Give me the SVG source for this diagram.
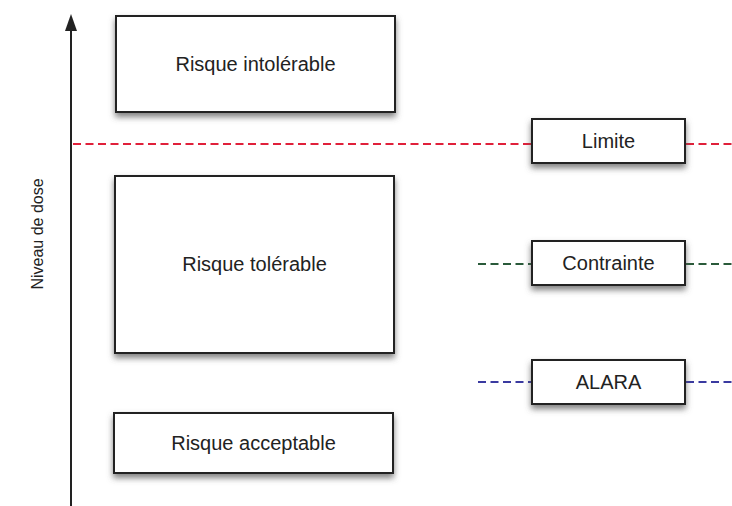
<svg xmlns="http://www.w3.org/2000/svg" width="732" height="506" viewBox="0 0 732 506">
<style>
.box{fill:#fff;stroke:#222;stroke-width:2;filter:url(#sh)}
.lbl{font-family:"Liberation Sans",Arial,sans-serif;font-size:20px;fill:#222;text-anchor:middle}
.dash{fill:none;stroke-width:2;stroke-dasharray:8 4.5}
</style>
<defs>
<filter id="sh" x="-10%" y="-20%" width="120%" height="150%">
<feDropShadow dx="0" dy="4" stdDeviation="3" flood-color="#555" flood-opacity="0.75"/>
</filter>
</defs>
<rect width="732" height="506" fill="#fff"/>
<g id="connectors">
<line x1="71" y1="506" x2="71" y2="30" stroke="#222" stroke-width="2"/>
<path d="M65,31 L71,14 L77,31 Z" fill="#222"/>
<line class="dash" x1="73" y1="144" x2="531" y2="144" stroke="#e0203a"/>
<line class="dash" x1="686" y1="144" x2="732" y2="144" stroke="#e0203a"/>
<line class="dash" x1="478" y1="264" x2="531" y2="264" stroke="#2a5a3a"/>
<line class="dash" x1="686" y1="264" x2="732" y2="264" stroke="#2a5a3a"/>
<line class="dash" x1="478" y1="382" x2="531" y2="382" stroke="#3a3aa0"/>
<line class="dash" x1="686" y1="382" x2="732" y2="382" stroke="#3a3aa0"/>
</g>
<text x="43" y="234" transform="rotate(-90 43 234)" font-family="'Liberation Sans',Arial,sans-serif" font-size="16" fill="#222" text-anchor="middle">Niveau de dose</text>
<g id="intolerable"><rect class="box" x="116" y="16" width="279" height="96"/><text class="lbl" x="255.5" y="71">Risque intolérable</text></g>
<g id="tolerable"><rect class="box" x="115" y="176" width="279" height="177"/><text class="lbl" x="254.5" y="271">Risque tolérable</text></g>
<g id="acceptable"><rect class="box" x="114" y="413" width="279" height="60"/><text class="lbl" x="253.5" y="450">Risque acceptable</text></g>
<g id="limite"><rect class="box" x="532" y="119" width="153" height="44"/><text class="lbl" x="608.5" y="148">Limite</text></g>
<g id="contrainte"><rect class="box" x="532" y="241" width="153" height="44"/><text class="lbl" x="608.5" y="270">Contrainte</text></g>
<g id="alara"><rect class="box" x="532" y="360" width="153" height="44"/><text class="lbl" x="608.5" y="389">ALARA</text></g>
</svg>
